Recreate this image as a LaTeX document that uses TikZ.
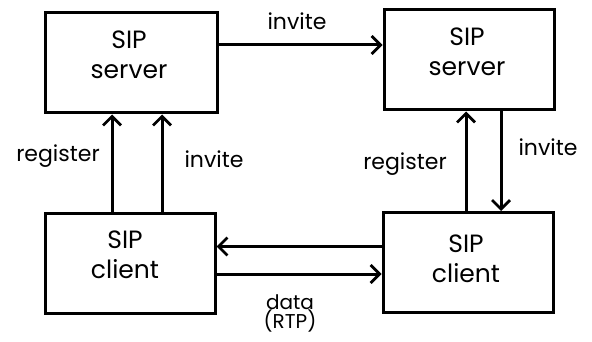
\documentclass[tikz,border=0pt]{standalone}
\usepackage{fontspec}
\setmainfont{Poppins}
\usetikzlibrary{arrows.meta}
\tikzset{
  box/.style={draw, line width=3pt, minimum width=170pt, minimum height=100pt, inner sep=0pt},
  boxtext/.style={align=center, font=\fontsize{25}{30}\selectfont, inner sep=0pt},
  lbl/.style={font=\fontsize{22}{22}\selectfont, inner sep=0pt},
  conn/.style={line width=3pt, -{Straight Barb[length=9pt,width=18pt,line width=2.8pt]}}
}
\begin{document}
\begin{tikzpicture}[x=1pt,y=-1pt]
  \useasboundingbox (0,0) rectangle (592,342);
  % boxes
  \node[box, minimum width=172pt] (sl) at (131,63) {};
  \node[box] (sr) at (469,60) {};
  \node[box] (cl) at (130,263) {};
  \node[box] (cr) at (468,262.5) {};
  % box texts
  \node[boxtext] (slt) at ([xshift=-2pt,yshift=8pt]sl.center) {SIP\\server};
  \node[boxtext] (srt) at ([xshift=-2pt,yshift=8pt]sr.center) {SIP\\server};
  \node[boxtext] (clt) at ([xshift=-5pt,yshift=8pt]cl.center) {SIP\\client};
  \node[boxtext] (crt) at ([xshift=-2pt,yshift=4pt]cr.center) {SIP\\client};
  % server to server
  \draw[conn] ([yshift=18pt]sl.east) -- ([yshift=18pt]sl.east -| sr.west);
  % left client to left server
  \draw[conn] ([xshift=-18pt]cl.north) -- ([xshift=-18pt]cl.north |- sl.south);
  \draw[conn] ([xshift=32pt]cl.north) -- ([xshift=32pt]cl.north |- sl.south);
  % right client / right server
  \draw[conn] ([xshift=-2pt]cr.north) -- ([xshift=-2pt]cr.north |- sr.south);
  \draw[conn] ([xshift=32pt]sr.south) -- ([xshift=32pt]sr.south |- cr.north);
  % client to client
  \draw[conn] ([yshift=16pt]cr.west) -- ([yshift=16pt]cr.west -| cl.east);
  \draw[conn] ([yshift=-11pt]cl.east) -- ([yshift=-11pt]cl.east -| cr.west);
  % labels
  \node[lbl] (l1) at (297,21) {invite};
  \node[lbl] (l2) at (58,156) {register};
  \node[lbl] (l3) at (214,159) {invite};
  \node[lbl] (l4) at (405,164) {register};
  \node[lbl] (l5) at (548,147) {invite};
  \node[lbl, align=center, font=\fontsize{20}{19}\selectfont] (l6) at (290,313) {data\\(RTP)};
\end{tikzpicture}
\end{document}
